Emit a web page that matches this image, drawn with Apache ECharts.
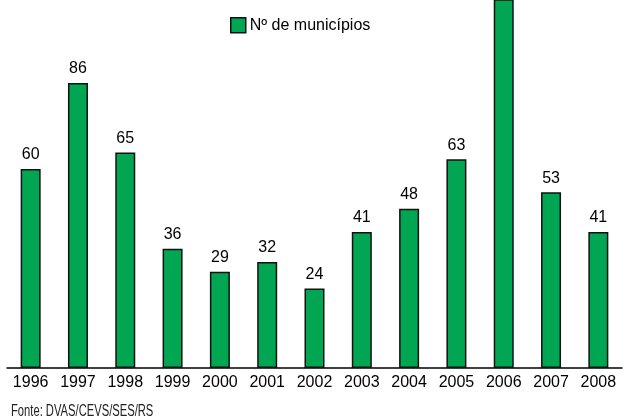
<!DOCTYPE html>
<html>
<head>
<meta charset="utf-8">
<script src="https://cdn.jsdelivr.net/npm/echarts@6/dist/echarts.min.js"></script>
<style>
  html, body { margin: 0; padding: 0; background: #fff; }
  #chart { width: 628px; height: 420px; }
</style>
</head>
<body>
<div id="chart"></div>
<script>
// Anos e número de municípios por ano
const years = ['1996', '1997', '1998', '1999', '2000', '2001', '2002',
               '2003', '2004', '2005', '2006', '2007', '2008'];
const municipios = [60, 86, 65, 36, 29, 32, 24, 41, 48, 63, 120, 53, 41];
const seriesName = 'Nº de municípios';
const sourceText = 'Fonte: DVAS/CEVS/SES/RS';

const FONT = 'Liberation Sans, Arial, sans-serif';
const chart = echarts.init(document.getElementById('chart'), null, { renderer: 'canvas' });

chart.setOption({
  animation: false,
  backgroundColor: '#ffffff',
  textStyle: { fontFamily: FONT },
  legend: {
    data: [{ name: seriesName, icon: 'rect' }],
    left: 225,
    top: 12,
    padding: 5,
    itemWidth: 15,
    itemHeight: 15,
    itemGap: 4,
    itemStyle: { borderColor: '#111', borderWidth: 1.5 },
    textStyle: { fontSize: 16, color: '#000', fontFamily: FONT, padding: [0, 0, 0, -1] }
  },
  grid: { left: 7, right: 6, top: 0, bottom: 52, containLabel: false },
  xAxis: {
    type: 'category',
    data: years,
    axisLine: { lineStyle: { color: '#000', width: 1.5 } },
    axisTick: { show: false },
    axisLabel: { color: '#000', fontSize: 16, margin: 7, interval: 0, fontFamily: FONT }
  },
  yAxis: {
    type: 'value',
    min: 0,
    max: 111,
    show: false,
    splitLine: { show: false }
  },
  series: [{
    name: seriesName,
    type: 'bar',
    data: municipios,
    barWidth: 20,
    clip: true,
    itemStyle: { color: '#00a651', borderColor: '#111', borderWidth: 1.5 },
    label: {
      show: true,
      position: 'top',
      distance: 6,
      color: '#000',
      fontSize: 16,
      fontFamily: FONT
    }
  }],
  graphic: [{
    type: 'text',
    left: 11,
    top: 404,
    scaleX: 0.7,
    style: {
      text: sourceText,
      fill: '#222',
      fontSize: 16,
      fontFamily: FONT
    }
  }]
});
</script>
</body>
</html>
